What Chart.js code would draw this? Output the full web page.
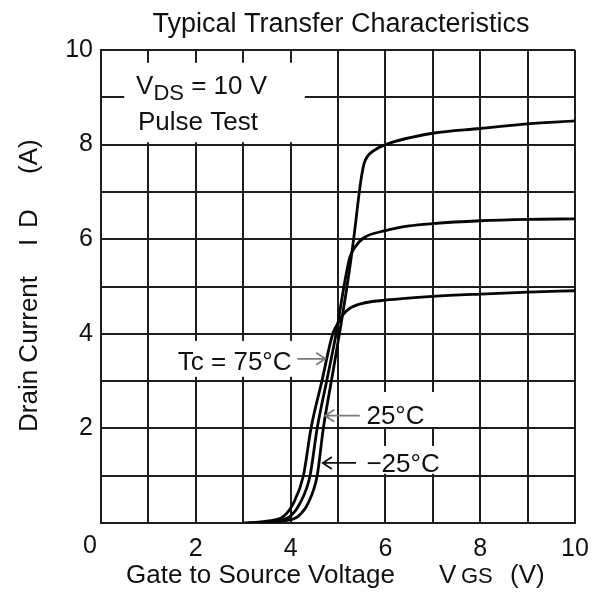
<!DOCTYPE html>
<html>
<head>
<meta charset="utf-8">
<script src="https://cdn.jsdelivr.net/npm/chart.js@4.4.1/dist/chart.umd.min.js"></script>
<style>
  html, body { margin: 0; padding: 0; background: #fff; }
</style>
</head>
<body>
<canvas id="transfer" width="601" height="592"></canvas>
<script>
// Tc = -25 °C  (highest current in saturation)
const vgsCold = [3.2, 3.7, 4.0, 4.16, 4.37, 4.56, 4.69, 4.86, 5.03, 5.19, 5.33, 5.45, 5.5, 5.55, 5.62, 5.75, 6, 7, 8, 9, 10];
const idCold  = [0, 0.025, 0.07, 0.14, 0.42, 1, 2, 3, 4, 5, 6, 7, 7.35, 7.6, 7.75, 7.87, 8.0, 8.24, 8.34, 8.44, 8.5];

// Tc = 25 °C
const vgsRoom = [3.1, 3.6, 3.8, 3.99, 4.2, 4.41, 4.56, 4.76, 4.96, 5.15, 5.25, 5.35, 5.53, 6, 6.5, 7, 8, 9, 10];
const idRoom  = [0, 0.03, 0.06, 0.14, 0.42, 1, 2, 3, 4, 5.14, 5.62, 5.82, 6.02, 6.18, 6.28, 6.33, 6.39, 6.42, 6.43];

// Tc = 75 °C
const vgsHot = [3.0, 3.5, 3.85, 4.06, 4.27, 4.43, 4.66, 4.89, 5.04, 5.1, 5.25, 5.5, 6, 7, 8, 9, 10];
const idHot  = [0, 0.04, 0.14, 0.42, 1, 2, 3, 4, 4.29, 4.4, 4.54, 4.64, 4.71, 4.79, 4.84, 4.88, 4.91];

const xTicks = [2, 4, 6, 8, 10];
const yTicks = [2, 4, 6, 8, 10];

const FONT = 'Liberation Sans, Arial, sans-serif';
const INK = '#111111';
const GRID = '#1e1e1e';

function toPoints(xs, ys) {
    return xs.map((x, i) => ({ x: x, y: ys[i] }));
}

function curve(xs, ys) {
    return {
        data: toPoints(xs, ys),
        showLine: true,
        borderColor: '#050505',
        borderWidth: 2.8,
        pointRadius: 0,
        cubicInterpolationMode: 'monotone',
        fill: false
    };
}

// white patches behind the in-plot labels (data units: x0, x1, y0, y1)
const patches = [
    [0.49, 4.30, 8.05, 9.73],
    [1.20, 4.14, 3.09, 3.85],
    [5.50, 7.15, 2.03, 2.77],
    [5.46, 7.28, 1.04, 1.63]
];

function arrow(ctx, x0, x1, y, color) {
    const dir = x1 > x0 ? 1 : -1;
    ctx.save();
    ctx.strokeStyle = color;
    ctx.lineWidth = 1.8;
    ctx.beginPath();
    ctx.moveTo(x0, y);
    ctx.lineTo(x1, y);
    ctx.moveTo(x1 - dir * 9, y - 6);
    ctx.lineTo(x1, y);
    ctx.lineTo(x1 - dir * 9, y + 6);
    ctx.stroke();
    ctx.restore();
}

const annotate = {
    id: 'annotate',
    beforeDatasetsDraw(chart) {
        const ctx = chart.ctx;
        const sx = chart.scales.x, sy = chart.scales.y;
        ctx.save();
        ctx.fillStyle = '#fff';
        patches.forEach(p => {
            const x0 = sx.getPixelForValue(p[0]), x1 = sx.getPixelForValue(p[1]);
            const y0 = sy.getPixelForValue(p[3]), y1 = sy.getPixelForValue(p[2]);
            ctx.fillRect(x0, y0, x1 - x0, y1 - y0);
        });
        ctx.restore();
    },
    afterDraw(chart) {
        const ctx = chart.ctx;
        const sx = chart.scales.x, sy = chart.scales.y;
        const area = chart.chartArea;
        ctx.save();
        ctx.fillStyle = INK;
        ctx.textBaseline = 'alphabetic';

        // title
        ctx.font = '27px ' + FONT;
        ctx.textAlign = 'center';
        ctx.fillText('Typical Transfer Characteristics', (area.left + area.right) / 2 + 3, 32);

        // corner zero
        ctx.font = '25px ' + FONT;
        ctx.fillText('0', area.left - 11, 553);

        // VDS = 10 V / Pulse Test
        ctx.textAlign = 'left';
        let x = sx.getPixelForValue(0.74);
        let y = sy.getPixelForValue(9.08);
        ctx.font = '26px ' + FONT;
        ctx.fillText('V', x, y);
        x += ctx.measureText('V').width;
        ctx.font = '22px ' + FONT;
        ctx.fillText('DS', x, y + 6);
        x += ctx.measureText('DS').width;
        ctx.font = '26px ' + FONT;
        ctx.fillText(' = 10 V', x, y);
        ctx.fillText('Pulse Test', sx.getPixelForValue(0.78), sy.getPixelForValue(8.31));

        // temperature labels
        ctx.textAlign = 'right';
        ctx.fillText('Tc = 75\u00B0C', sx.getPixelForValue(4.02), sy.getPixelForValue(3.23));
        ctx.textAlign = 'left';
        ctx.fillText('25\u00B0C', sx.getPixelForValue(5.6), sy.getPixelForValue(2.09));
        ctx.fillText('\u221225\u00B0C', sx.getPixelForValue(5.6), sy.getPixelForValue(1.08));

        arrow(ctx, sx.getPixelForValue(4.14), sx.getPixelForValue(4.73), sy.getPixelForValue(3.47), '#7a7a7a');
        arrow(ctx, sx.getPixelForValue(5.46), sx.getPixelForValue(4.73), sy.getPixelForValue(2.27), '#7a7a7a');
        arrow(ctx, sx.getPixelForValue(5.38), sx.getPixelForValue(4.68), sy.getPixelForValue(1.27), INK);

        // x axis title
        ctx.textAlign = 'left';
        ctx.font = '26px ' + FONT;
        ctx.fillText('Gate to Source Voltage', 126, 583);
        ctx.fillText('V', 439, 583);
        ctx.font = '22px ' + FONT;
        ctx.fillText('GS', 461, 583);
        ctx.font = '26px ' + FONT;
        ctx.fillText('(V)', 510, 583);

        // y axis title (rotated)
        ctx.translate(37, 0);
        ctx.rotate(-Math.PI / 2);
        ctx.fillText('Drain Current', -432, 0);
        ctx.fillText('I', -246, 0);
        ctx.fillText('D', -228, 0);
        ctx.fillText('(A)', -174, 0);
        ctx.restore();
    }
};

new Chart(document.getElementById('transfer'), {
    type: 'scatter',
    data: {
        datasets: [curve(vgsCold, idCold), curve(vgsRoom, idRoom), curve(vgsHot, idHot)]
    },
    options: {
        responsive: false,
        animation: false,
        devicePixelRatio: 1,
        layout: { padding: { left: 0, top: 50, right: 26, bottom: 0 } },
        plugins: { legend: { display: false }, tooltip: { enabled: false }, title: { display: false } },
        scales: {
            x: {
                type: 'linear',
                min: 0, max: 10,
                afterFit: scale => { scale.height = 69; },
                grid: { color: GRID, lineWidth: 2, drawTicks: false },
                border: { color: GRID, width: 2 },
                ticks: {
                    stepSize: 1, autoSkip: false, maxRotation: 0, padding: 11,
                    color: INK, font: { family: FONT, size: 25 },
                    callback: v => xTicks.includes(v) ? String(v) : ''
                }
            },
            y: {
                type: 'linear',
                min: 0, max: 10,
                afterFit: scale => { scale.width = 101; },
                grid: { color: GRID, lineWidth: 2, drawTicks: false },
                border: { color: GRID, width: 2 },
                ticks: {
                    stepSize: 1, autoSkip: false, padding: 8,
                    color: INK, font: { family: FONT, size: 25 },
                    callback: v => yTicks.includes(v) ? String(v) : ''
                }
            }
        }
    },
    plugins: [annotate]
});
</script>
</body>
</html>
